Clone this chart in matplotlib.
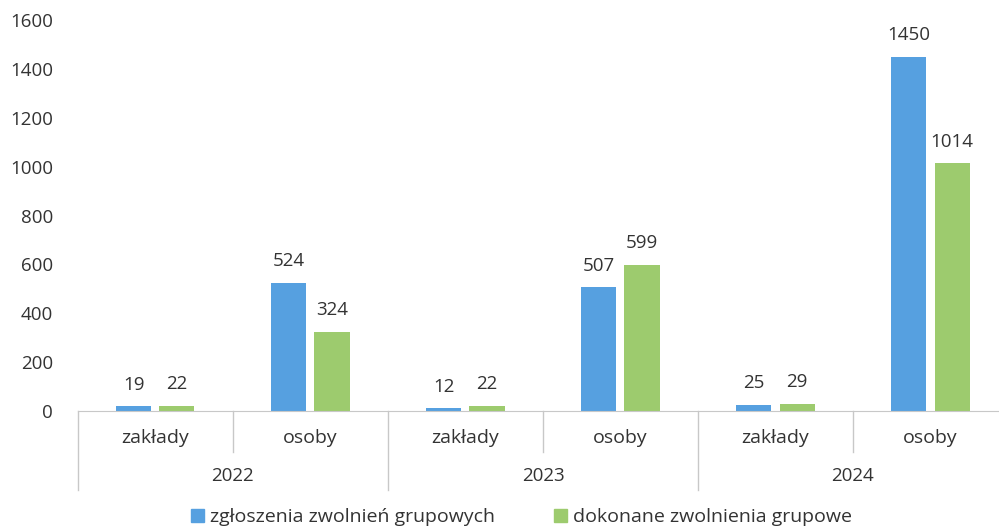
import matplotlib.pyplot as plt
from matplotlib.patches import Patch

plt.rcParams['font.family'] = ['Open Sans', 'DejaVu Sans']

# data
years = ["2022", "2023", "2024"]
subcats = ["zakłady", "osoby"]
zgloszenia = [19, 524, 12, 507, 25, 1450]
dokonane = [22, 324, 22, 599, 29, 1014]
series_names = ["zgłoszenia zwolnień grupowych", "dokonane zwolnienia grupowe"]
yticks = [0, 200, 400, 600, 800, 1000, 1200, 1400, 1600]

blue = "#56A0E0"
green = "#9DCB6E"
txt = "#333333"
line = "#C8C8C8"
fs = 13.5

fig = plt.figure(figsize=(9.99, 5.28), dpi=100)
ax = fig.add_axes([0.078, 0.2216, 0.931, 0.7405])

n = len(zgloszenia)
x = list(range(n))
w = 0.226
off = 0.139
b1 = ax.bar([i - off for i in x], zgloszenia, w, color=blue)
b2 = ax.bar([i + off for i in x], dokonane, w, color=green)

for bars, vals in ((b1, zgloszenia), (b2, dokonane)):
    for r, v in zip(bars, vals):
        ax.annotate(str(v), (r.get_x() + r.get_width() / 2, v),
                    xytext=(0, 9), textcoords="offset points",
                    ha="center", va="bottom", fontsize=fs, color=txt)

ax.set_xlim(-0.5, n - 0.5)
ax.set_ylim(0, 1600)
ax.set_yticks(yticks)
ax.tick_params(axis="y", length=0, pad=18, labelsize=fs, labelcolor=txt)
ax.set_xticks([])
for s in ["top", "right", "left"]:
    ax.spines[s].set_visible(False)
ax.spines["bottom"].set_color(line)

# two-level category axis
tr = ax.get_xaxis_transform()
for i in range(n):
    ax.text(i, -0.068, subcats[i % 2], transform=tr, ha="center", va="center",
            fontsize=fs + 0.5, color=txt)
for j, y in enumerate(years):
    ax.text(2 * j + 0.5, -0.166, y, transform=tr, ha="center", va="center",
            fontsize=fs, color=txt)
for k in range(n + 1):
    bottom = -0.202 if k % 2 == 0 else -0.105
    ax.plot([k - 0.5, k - 0.5], [0, bottom], transform=tr, color=line,
            lw=1, clip_on=False)

handles = [Patch(color=blue), Patch(color=green)]
fig.legend(handles, series_names, loc="center", bbox_to_anchor=(0.522, 0.02),
           ncol=2, frameon=False, fontsize=fs + 0.5, handlelength=0.7,
           handleheight=0.7, handletextpad=0.3, columnspacing=3.0,
           labelcolor=txt, borderpad=0.2)

fig.savefig("out.png", dpi=100)
